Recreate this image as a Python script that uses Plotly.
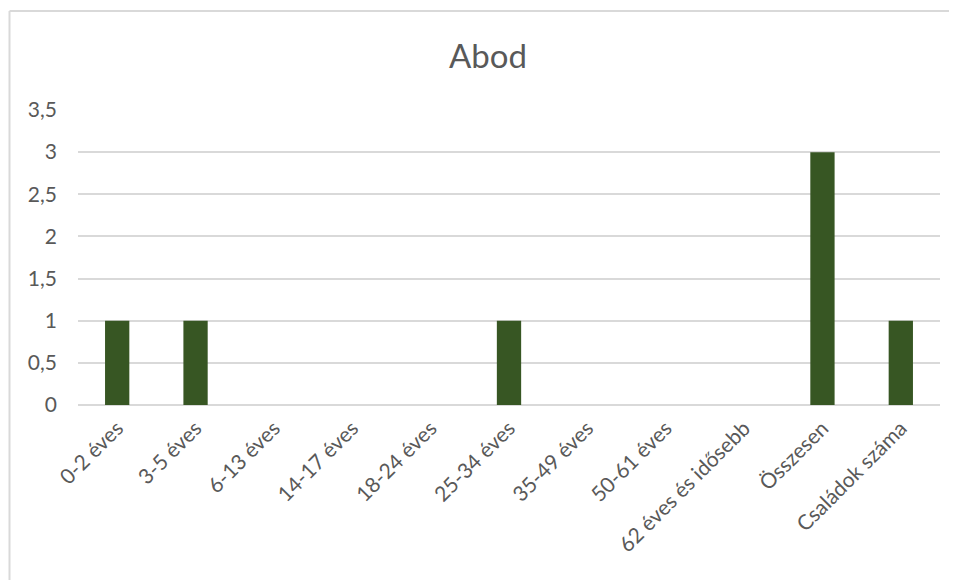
import plotly.graph_objects as go

categories = ["0-2 éves", "3-5 éves", "6-13 éves", "14-17 éves", "18-24 éves",
              "25-34 éves", "35-49 éves", "50-61 éves", "62 éves és idősebb",
              "Összesen", "Családok száma"]
values = [1, 1, 0, 0, 0, 1, 0, 0, 0, 3, 1]
y_tick_vals = [0, 0.5, 1, 1.5, 2, 2.5, 3, 3.5]
y_tick_text = ["0", "0,5", "1", "1,5", "2", "2,5", "3", "3,5"]
title_text = "Abod"

fig = go.Figure(go.Bar(x=categories, y=values, marker_color="#375623",
                       marker_line_width=0, width=0.31))

# page has ~8px body offset; compensate
W, H = 949, 572
L, T, B, R = 70, 102, 175, 17
pw = W - L - R
ph = H - T - B

font_family = "Lato, 'Open Sans', sans-serif"
fig.update_layout(
    width=W, height=H,
    margin=dict(l=L, r=R, t=T, b=B),
    paper_bgcolor="white", plot_bgcolor="white",
    showlegend=False,
    bargap=0.69,
    title=dict(text=title_text, x=(488 - 8 - L) / pw, xref="paper", xanchor="center",
               y=1 - (56 - 8) / H, yref="container", yanchor="middle",
               font=dict(family=font_family, size=33, color="#595959")),
    font=dict(family=font_family, color="#595959", size=21),
    xaxis=dict(showgrid=False, showline=False, tickangle=-45,
               tickfont=dict(size=21, color="#595959"), ticks="",
               ticklabelstandoff=6),
    yaxis=dict(range=[0, 3.5], tickvals=y_tick_vals, ticktext=y_tick_text,
               showgrid=True, gridcolor="#d9d9d9", gridwidth=2,
               zeroline=True, zerolinecolor="#d9d9d9", zerolinewidth=2,
               showline=False, ticks="", ticklabelstandoff=20,
               tickfont=dict(size=21, color="#595959")),
    shapes=[
        dict(type="line", xref="paper", yref="paper",
             x0=(1.5 - L) / pw, x1=(960 - L) / pw, y0=(T + ph - 3) / ph, y1=(T + ph - 3) / ph,
             line=dict(color="#d9d9d9", width=2)),
        dict(type="line", xref="paper", yref="paper",
             x0=(1.5 - L) / pw, x1=(1.5 - L) / pw, y0=(T + ph - 3) / ph, y1=-1,
             line=dict(color="#d9d9d9", width=2)),
    ],
)

fig.write_html("out.html")
